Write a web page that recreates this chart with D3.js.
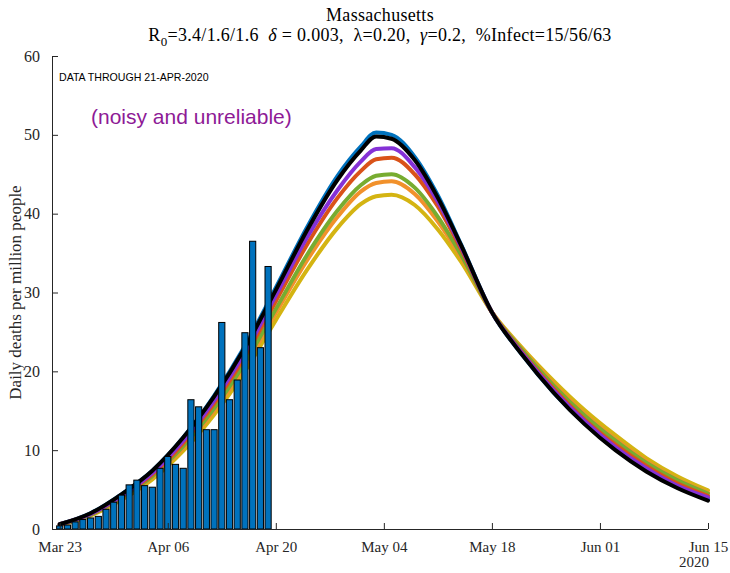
<!DOCTYPE html>
<html><head><meta charset="utf-8">
<script src="https://cdn.jsdelivr.net/npm/d3@7"></script>
<style>
body{margin:0;background:#fff;}
text{white-space:pre;}
</style>
</head><body>
<svg id="chart" width="730" height="573"></svg>
<script>
// ---- data ----
const barDates = ["2020-03-23","2020-03-24","2020-03-25","2020-03-26","2020-03-27","2020-03-28","2020-03-29","2020-03-30","2020-03-31","2020-04-01","2020-04-02","2020-04-03","2020-04-04","2020-04-05","2020-04-06","2020-04-07","2020-04-08","2020-04-09","2020-04-10","2020-04-11","2020-04-12","2020-04-13","2020-04-14","2020-04-15","2020-04-16","2020-04-17","2020-04-18","2020-04-19"];
const barValues = [0.4,0.5,0.9,1.2,1.4,1.6,2.5,3.4,4.3,5.6,6.2,5.5,5.3,7.7,9.2,8.2,7.7,16.4,15.5,12.6,12.6,26.2,16.4,18.9,24.9,36.5,23.0,33.3];

const curveDates = ["2020-03-23","2020-03-27","2020-03-31","2020-04-04","2020-04-08","2020-04-12","2020-04-16","2020-04-20","2020-04-24","2020-04-28","2020-05-01","2020-05-03","2020-05-05","2020-05-08","2020-05-11","2020-05-14","2020-05-18","2020-05-22","2020-05-26","2020-05-30","2020-06-03","2020-06-07","2020-06-11","2020-06-15"];
const blueCurve   = [0.6,2.0,4.4,7.4,11.6,16.9,23.2,30.6,38.2,44.8,48.5,50.3,50.0,47.2,42.3,36.1,27.5,22.0,17.3,13.4,10.1,7.4,5.3,3.8];
const purpleCurve = [0.6,1.9,4.2,7.1,11.2,16.3,22.4,29.6,36.9,43.0,46.6,48.2,48.3,45.9,41.5,35.8,27.5,22.2,17.6,13.7,10.4,7.7,5.5,4.0];
const redCurve    = [0.6,1.9,4.1,6.9,10.9,15.9,21.9,28.9,36.0,42.0,45.4,46.9,47.1,45.0,40.9,35.5,27.5,22.3,17.8,13.9,10.7,8.0,5.8,4.2];
const greenCurve  = [0.6,1.8,4.0,6.7,10.5,15.3,21.1,27.9,34.7,40.4,43.6,44.8,45.0,43.3,39.6,34.8,27.5,22.6,18.2,14.4,11.2,8.4,6.2,4.5];
const orangeCurve = [0.5,1.8,3.9,6.6,10.3,15.0,20.7,27.4,34.0,39.6,42.8,43.9,44.1,42.5,39.0,34.5,27.5,22.7,18.4,14.6,11.4,8.6,6.3,4.6];
const yellowCurve = [0.5,1.7,3.7,6.3,9.9,14.5,20.0,26.5,32.8,38.2,41.2,42.2,42.4,41.1,38.0,33.9,27.5,22.9,18.8,15.1,11.9,9.0,6.7,4.9];
const blackCurve  = [0.6,2.0,4.4,7.4,11.6,16.8,23.0,30.3,37.8,44.3,48.0,49.8,49.5,46.8,42.0,36.0,27.5,22.0,17.3,13.3,10.0,7.3,5.2,3.6];

const xTickDates = ["2020-03-23","2020-04-06","2020-04-20","2020-05-04","2020-05-18","2020-06-01","2020-06-15"];
const yTicks = [0,10,20,30,40,50,60];

// ---- layout ----
const svg = d3.select("#chart");
const L = 52, R = 708, T = 56, B = 529;
const x = d3.scaleUtc().domain([new Date("2020-03-22"), new Date("2020-06-15")]).range([L, R]);
const y = d3.scaleLinear().domain([0, 60]).range([B, T]);
const axisColor = "#262626";
const serif = "'Liberation Serif','Times New Roman',serif";
const sans = "'Liberation Sans',Arial,Helvetica,sans-serif";

// curves (drawn beneath the bars)
const cd = curveDates.map(d => new Date(d));
const series = [
  {v: blueCurve, c: "#0072BD"},
  {v: yellowCurve, c: "#D4B412"},
  {v: orangeCurve, c: "#F1912B"},
  {v: greenCurve, c: "#77AC30"},
  {v: redCurve, c: "#D95319"},
  {v: purpleCurve, c: "#8531D6"},
  {v: blackCurve, c: "#000000"}
];
const line = d3.line().x((d,i)=>x(cd[i])).y(d=>y(d)).curve(d3.curveMonotoneX);
svg.append("g").selectAll("path").data(series).join("path")
  .attr("d", s => line(s.v))
  .attr("fill", "none")
  .attr("stroke", s => s.c)
  .attr("stroke-width", 4)
  .attr("stroke-linejoin", "round")
  .attr("stroke-linecap", "round");

// bars
const dayW = x(new Date("2020-03-24")) - x(new Date("2020-03-23"));
const bw = dayW * 0.8;
svg.append("g").selectAll("rect").data(barDates.map((d,i)=>({d:new Date(d), v:barValues[i]})))
  .join("rect")
  .attr("x", d => x(d.d) - bw/2)
  .attr("y", d => y(d.v))
  .attr("width", bw)
  .attr("height", d => y(0) - y(d.v))
  .attr("fill", "#0072BD")
  .attr("stroke", "#000")
  .attr("stroke-width", 1);

// axes
const xAxis = d3.axisBottom(x).tickValues(xTickDates.map(d=>new Date(d)))
  .tickFormat(d3.utcFormat("%b %d")).tickSizeInner(-6).tickSizeOuter(0).tickPadding(12);
const gx = svg.append("g").attr("transform", `translate(0,${B})`).call(xAxis);
gx.select(".domain").attr("stroke", axisColor).attr("d", `M${L},0.5H${R}`);
gx.selectAll(".tick line").attr("stroke", axisColor);
gx.selectAll("text").attr("fill", axisColor).attr("font-family", serif).attr("font-size", 15);

const yAxis = d3.axisLeft(y).tickValues(yTicks).tickSizeInner(-6).tickSizeOuter(0).tickPadding(12);
const gy = svg.append("g").attr("transform", `translate(${L},0)`).call(yAxis);
gy.select(".domain").attr("stroke", axisColor).attr("d", `M0.5,${B}V${T}`);
gy.selectAll(".tick line").attr("stroke", axisColor);
gy.selectAll("text").attr("fill", axisColor).attr("font-family", serif).attr("font-size", 16);

// year label
svg.append("text").attr("x", x(new Date("2020-06-15"))-14).attr("y", 567)
  .attr("text-anchor","middle").attr("font-family", serif).attr("font-size", 15).attr("fill", axisColor).text("2020");

// y label
svg.append("text").attr("transform", `translate(21,${(T+B)/2}) rotate(-90)`)
  .attr("text-anchor","middle").attr("font-family", serif).attr("font-size", 17).attr("fill", axisColor)
  .text("Daily deaths per million people");

// titles
const cx = (L+R)/2;
svg.append("text").attr("x", cx).attr("y", 21).attr("text-anchor","middle")
  .attr("font-family", serif).attr("font-size", 18).attr("letter-spacing", 0.3).attr("fill", "#000").text("Massachusetts");
const t2 = svg.append("text").attr("x", cx).attr("y", 41).attr("text-anchor","middle")
  .attr("font-family", serif).attr("font-size", 18).attr("letter-spacing", 0.3).attr("fill", "#000");
t2.append("tspan").text("R");
t2.append("tspan").attr("dy", 5).attr("font-size", 13).text("0");
t2.append("tspan").attr("dy", -5).text("=3.4/1.6/1.6  ");
t2.append("tspan").attr("font-style","italic").text("δ");
t2.append("tspan").text(" = 0.003,  λ=0.20,  ");
t2.append("tspan").attr("font-style","italic").text("γ");
t2.append("tspan").text("=0.2,  %Infect=15/56/63");

// annotations
svg.append("text").attr("x", 59).attr("y", 81).attr("font-family", sans).attr("font-size", 10.6)
  .attr("fill", "#000").text("DATA THROUGH 21-APR-2020");
svg.append("text").attr("x", 91).attr("y", 124).attr("font-family", sans).attr("font-size", 21)
  .attr("fill", "#8E1A96").text("(noisy and unreliable)");
</script>
</body></html>
